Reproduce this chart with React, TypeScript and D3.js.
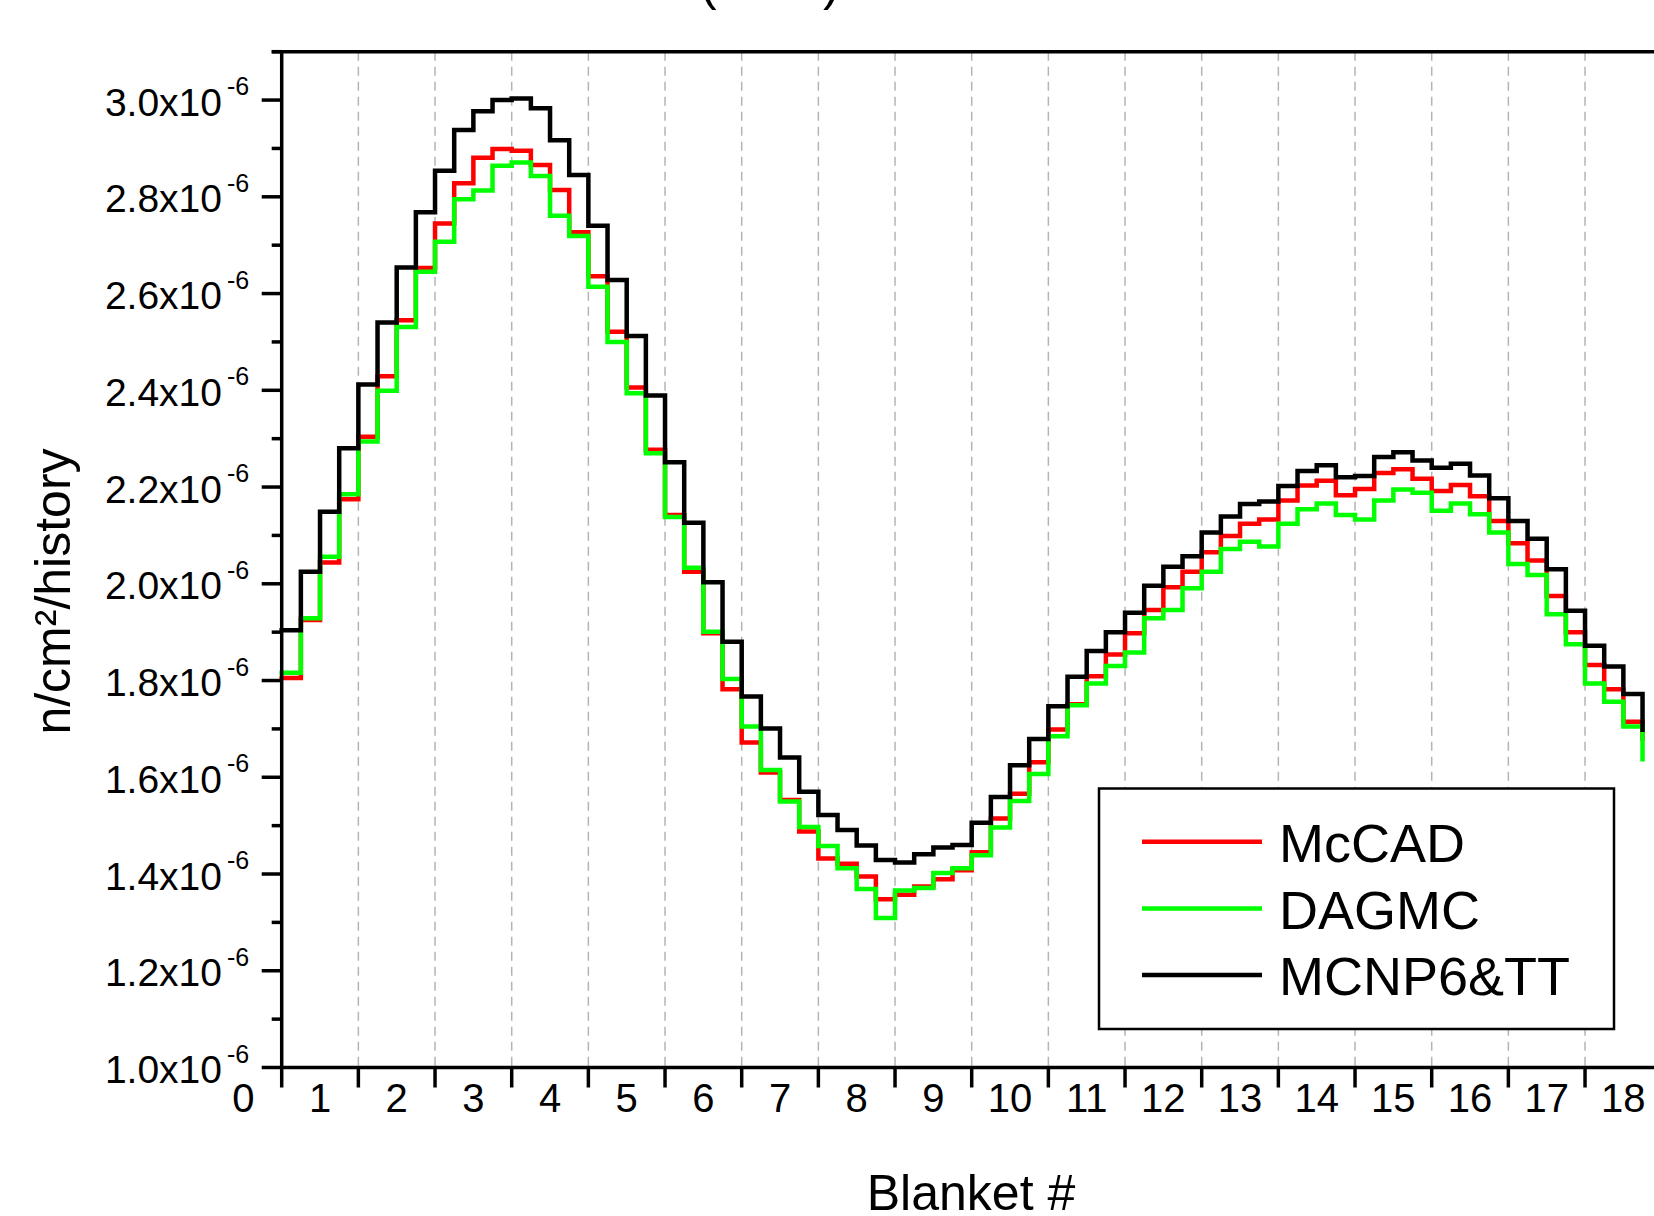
import React from "react";
import * as d3 from "d3";

// blanket flux, 4 bins per blanket (units of 1e-6)
const mccad = [
  1.805, 1.925, 2.044, 2.175, 2.304, 2.429, 2.545, 2.653, 2.745, 2.828, 2.881, 2.899,
  2.895, 2.866, 2.814, 2.727, 2.636, 2.521, 2.406, 2.277, 2.142, 2.025, 1.898, 1.782,
  1.672, 1.61, 1.553, 1.488, 1.432, 1.421, 1.395, 1.348, 1.357, 1.374, 1.389, 1.408,
  1.445, 1.515, 1.566, 1.631, 1.699, 1.751, 1.809, 1.854, 1.898, 1.946, 1.993, 2.025,
  2.065, 2.099, 2.124, 2.133, 2.172, 2.203, 2.213, 2.183, 2.196, 2.229, 2.237, 2.217,
  2.192, 2.204, 2.181, 2.13, 2.084, 2.048, 1.975, 1.9, 1.832, 1.782, 1.715, 1.68,
];
const dagmc = [
  1.816, 1.929, 2.056, 2.185, 2.294, 2.399, 2.531, 2.645, 2.707, 2.795, 2.813, 2.864,
  2.871, 2.843, 2.761, 2.719, 2.614, 2.5, 2.394, 2.27, 2.138, 2.033, 1.901, 1.803,
  1.705, 1.615, 1.55, 1.497, 1.458, 1.412, 1.369, 1.309, 1.366, 1.371, 1.402, 1.412,
  1.439, 1.496, 1.551, 1.607, 1.685, 1.749, 1.794, 1.83, 1.858, 1.929, 1.946, 1.991,
  2.025, 2.072, 2.087, 2.077, 2.124, 2.154, 2.166, 2.142, 2.133, 2.172, 2.195, 2.188,
  2.151, 2.166, 2.144, 2.106, 2.041, 2.018, 1.937, 1.875, 1.794, 1.756, 1.705, 1.637,
];
const mcnp6tt = [
  1.904, 2.025, 2.149, 2.28, 2.412, 2.54, 2.654, 2.768, 2.854, 2.938, 2.977, 3.0,
  3.003, 2.983, 2.917, 2.845, 2.74, 2.628, 2.512, 2.389, 2.251, 2.126, 2.003, 1.88,
  1.767, 1.701, 1.641, 1.57, 1.522, 1.491, 1.459, 1.429, 1.424, 1.441, 1.455, 1.46,
  1.506, 1.559, 1.625, 1.679, 1.747, 1.808, 1.861, 1.9, 1.94, 1.996, 2.035, 2.057,
  2.106, 2.139, 2.165, 2.17, 2.202, 2.233, 2.245, 2.22, 2.223, 2.262, 2.272, 2.255,
  2.24, 2.248, 2.224, 2.177, 2.13, 2.093, 2.03, 1.944, 1.872, 1.829, 1.772, 1.698,
];

const seriesNames = ["McCAD", "DAGMC", "MCNP6&TT"];
const seriesColors = ["#ff0000", "#00ff00", "#000000"];
const yMajorTicks = [1.0, 1.2, 1.4, 1.6, 1.8, 2.0, 2.2, 2.4, 2.6, 2.8, 3.0];
const yMinorTicks = [1.1, 1.3, 1.5, 1.7, 1.9, 2.1, 2.3, 2.5, 2.7, 2.9, 3.1];
const xTickLabels = d3.range(0, 19); // 0..18, shown between the ticks

const font = "'Liberation Sans', Arial, Helvetica, sans-serif";

export default function App() {
  const width = 1654;
  const height = 1216;

  const x = d3.scaleLinear().domain([0, 18]).range([281.7, 1661.7]);
  const y = d3.scaleLinear().domain([1.0, 3.1]).range([1067.5, 51.7]);

  const all = [mccad, dagmc, mcnp6tt];
  const line = d3
    .line<number>()
    .x((d, i) => x(i * 0.25))
    .y((d) => y(d))
    .curve(d3.curveStepAfter);

  const top = y(3.1);
  const bottom = y(1.0);
  const left = x(0);

  // legend rows
  const legendY = [841.7, 908.5, 975];

  return (
    <svg
      width={width}
      height={height}
      style={{ position: "absolute", left: 0, top: 0, background: "#fff" }}
      fontFamily={font}
    >
      <rect x={0} y={0} width={width} height={height} fill="#fff" />

      {/* cut-off title */}
      <text x={700} y={0} fontSize={50} fill="#000">(</text>
      <text x={823} y={0} fontSize={50} fill="#000">)</text>

      {/* vertical dashed grid */}
      {d3.range(1, 18).map((t) => (
        <line
          key={"g" + t}
          x1={x(t)}
          x2={x(t)}
          y1={top}
          y2={bottom}
          stroke="#b4b4b4"
          strokeWidth={1.5}
          strokeDasharray="9,6"
        />
      ))}

      {/* series */}
      {all.map((s, i) => (
        <path
          key={seriesNames[i]}
          d={line(s) || ""}
          fill="none"
          stroke={seriesColors[i]}
          strokeWidth={4.5}
          strokeLinejoin="miter"
          strokeLinecap="square"
        />
      ))}

      {/* frame */}
      <line x1={left - 10} x2={width + 20} y1={top} y2={top} stroke="#000" strokeWidth={3.5} />
      <line x1={left} x2={left} y1={top - 1.5} y2={bottom + 1.5} stroke="#000" strokeWidth={3.5} />
      <line x1={left} x2={width + 20} y1={bottom} y2={bottom} stroke="#000" strokeWidth={3.5} />

      {/* y ticks */}
      {yMajorTicks.map((t) => (
        <g key={"ym" + t}>
          <line x1={left - 20} x2={left} y1={y(t)} y2={y(t)} stroke="#000" strokeWidth={3.5} />
          <text x={222} y={y(t) + 15.5} fontSize={39} textAnchor="end" fill="#000">
            {t.toFixed(1) + "x10"}
          </text>
          <text x={227} y={y(t) - 5} fontSize={25} fill="#000">-6</text>
        </g>
      ))}
      {yMinorTicks.map((t) => (
        <line key={"yn" + t} x1={left - 10} x2={left} y1={y(t)} y2={y(t)} stroke="#000" strokeWidth={3.5} />
      ))}

      {/* x ticks and labels */}
      {d3.range(0, 18).map((t) => (
        <line key={"xt" + t} x1={x(t)} x2={x(t)} y1={bottom} y2={bottom + 20} stroke="#000" strokeWidth={3.5} />
      ))}
      {xTickLabels.map((k) => (
        <text key={"xl" + k} x={x(k - 0.5)} y={1112} fontSize={40} textAnchor="middle" fill="#000">
          {k}
        </text>
      ))}

      {/* axis titles */}
      <text x={971} y={1210} fontSize={50} textAnchor="middle" fill="#000">
        Blanket #
      </text>
      <text
        transform="translate(70,591.5) rotate(-90)"
        fontSize={50}
        textAnchor="middle"
        fill="#000"
      >
        n/cm²/history
      </text>

      {/* legend */}
      <rect x={1099} y={788.5} width={515} height={240.5} fill="#fff" stroke="#000" strokeWidth={2.5} />
      {seriesNames.map((n, i) => (
        <g key={"lg" + n}>
          <line
            x1={1142}
            x2={1262}
            y1={legendY[i]}
            y2={legendY[i]}
            stroke={seriesColors[i]}
            strokeWidth={4.5}
          />
          <text x={1279} y={legendY[i] + 20} fontSize={54} fill="#000">
            {n}
          </text>
        </g>
      ))}
    </svg>
  );
}
